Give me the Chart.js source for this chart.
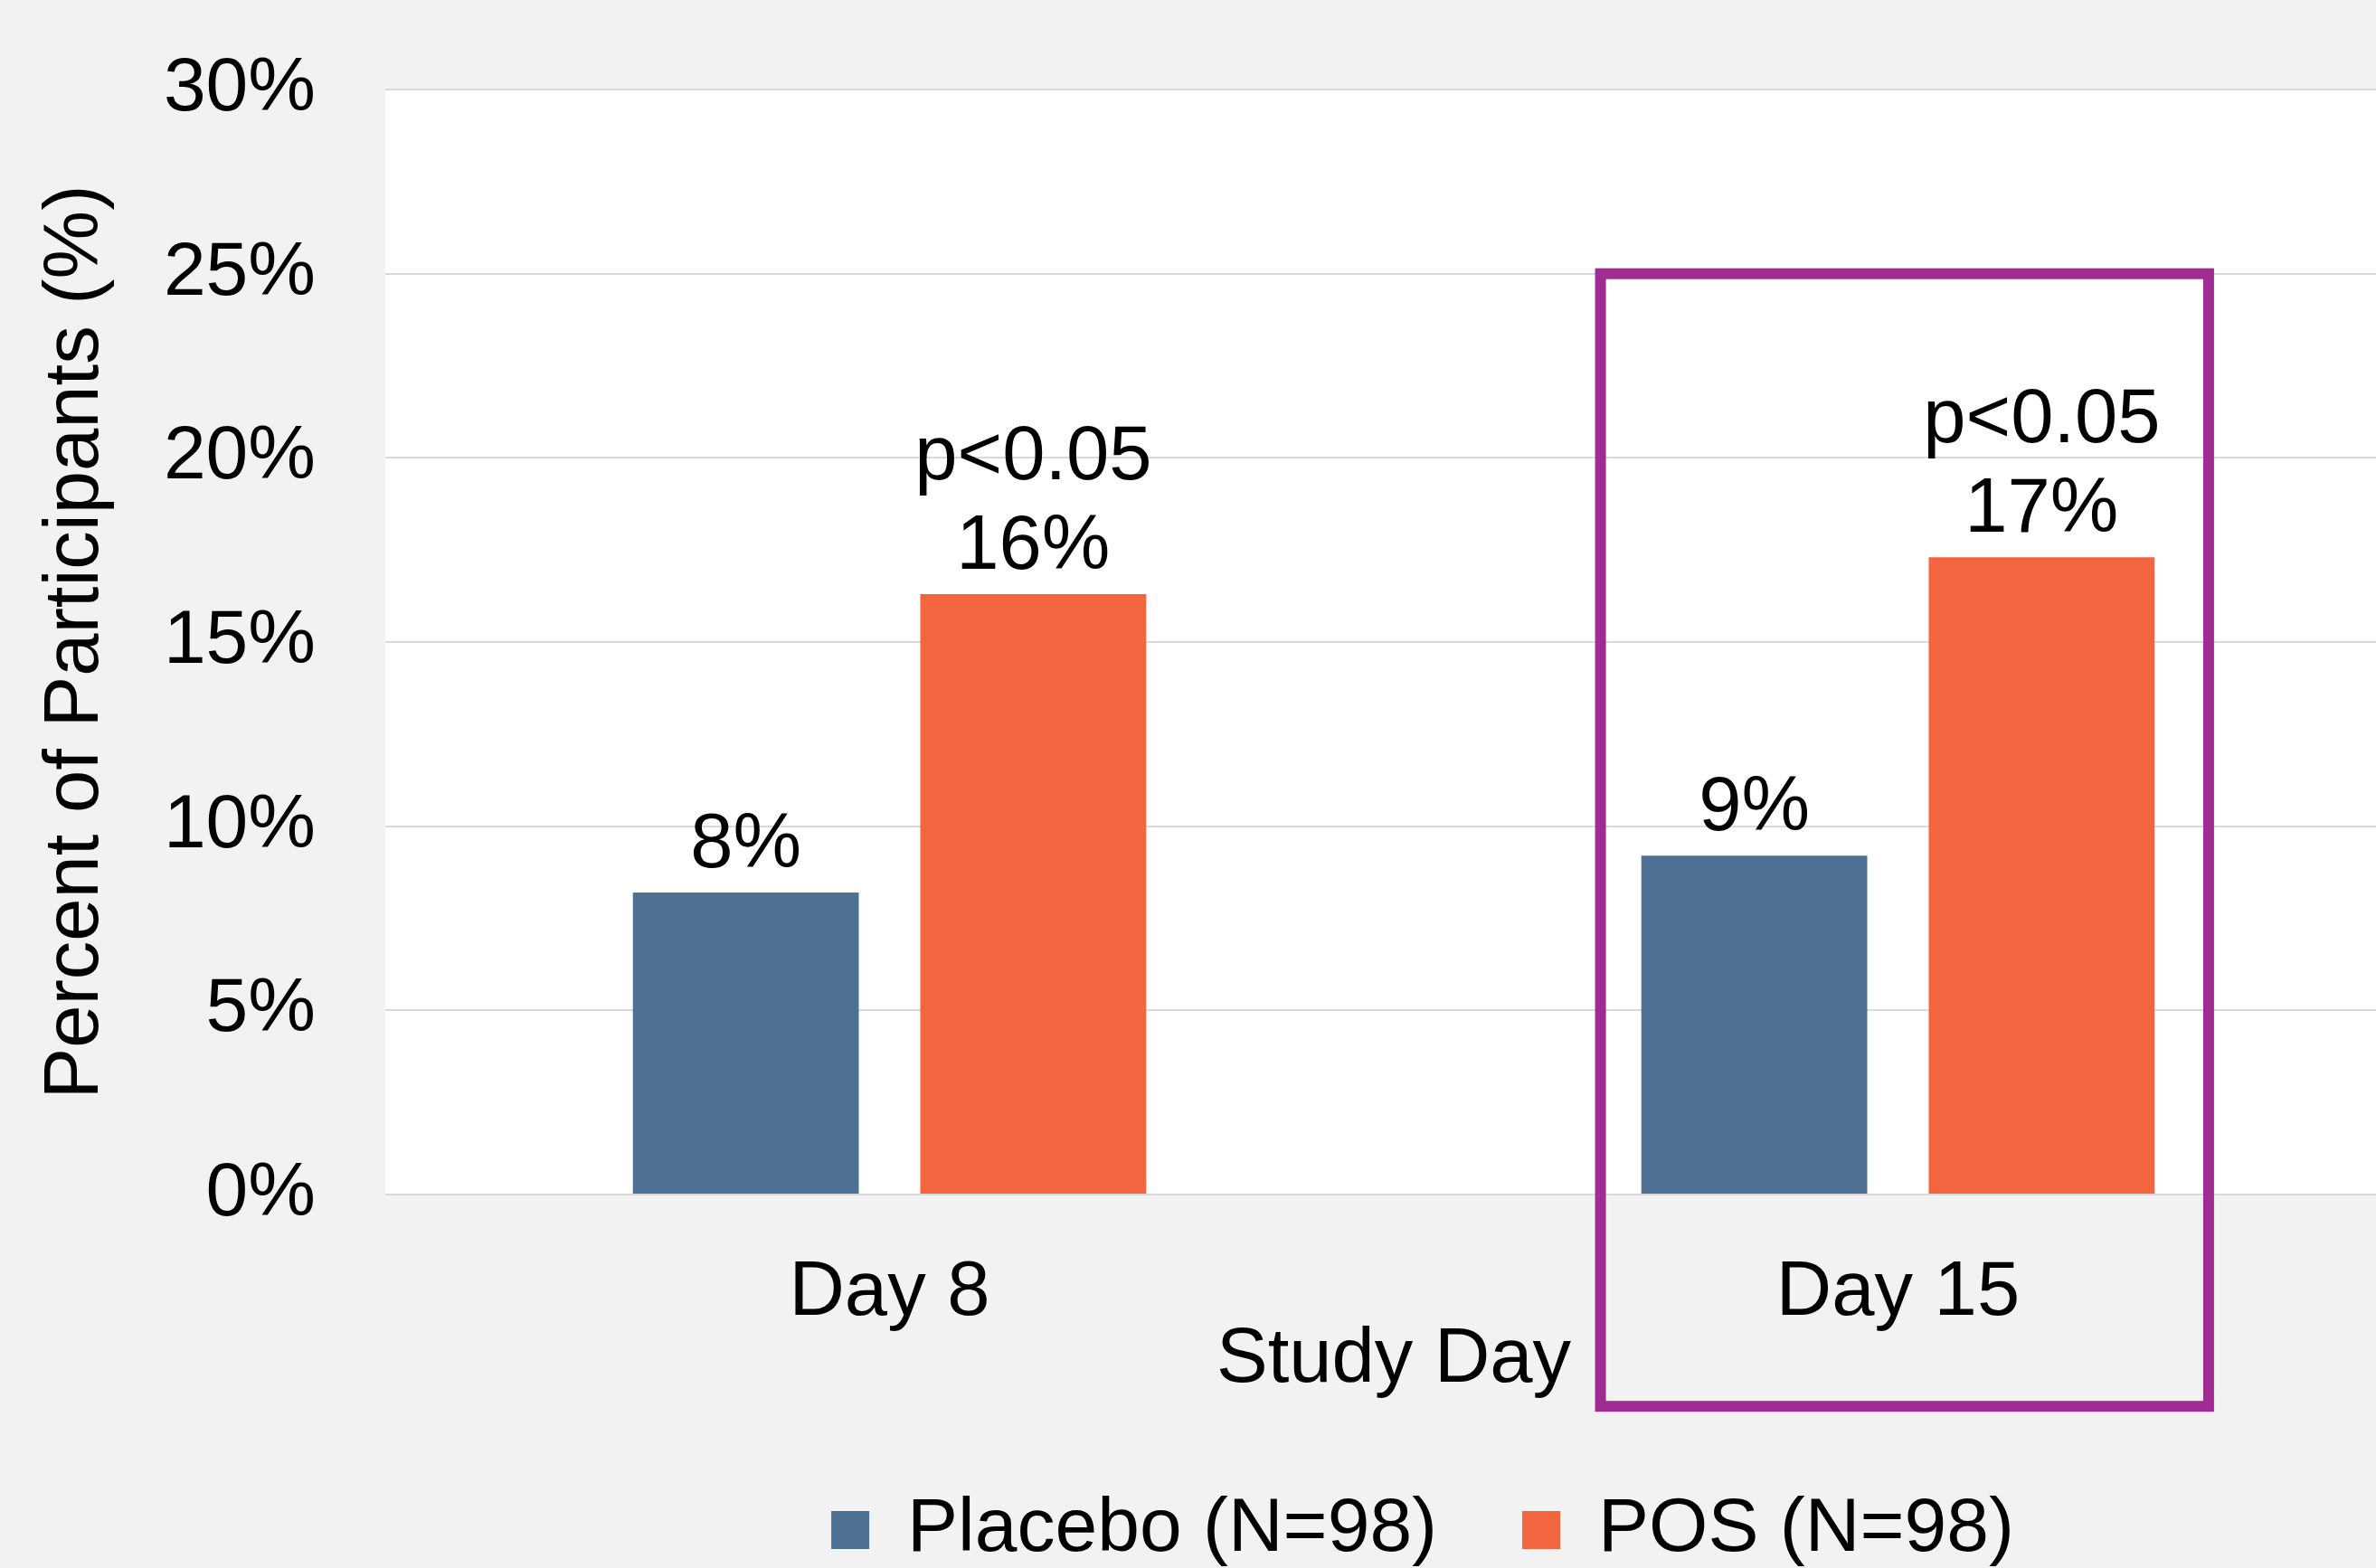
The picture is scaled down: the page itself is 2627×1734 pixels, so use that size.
<!DOCTYPE html>
<html>
<head>
<meta charset="utf-8">
<script src="https://cdn.jsdelivr.net/npm/chart.js@4.4.1/dist/chart.umd.min.js"></script>
<style>
    html, body { margin: 0; padding: 0; background: #f2f2f2; overflow: hidden; }
    #wrap { width: 2660px; height: 1734px; }
</style>
</head>
<body>
<div id="wrap"><canvas id="studyChart"></canvas></div>
<script>
// data
const days = ['Day 8', 'Day 15'];
const placebo = [8.2, 9.2];
const pos = [16.3, 17.3];
const placeboLabels = ['8%', '9%'];
const posLabels = ['16%', '17%'];
const pValues = ['p<0.05', 'p<0.05'];
const yTicks = [0, 5, 10, 15, 20, 25, 30];
const highlightDay = 'Day 15';

const FONT = '"Liberation Sans", Arial, sans-serif';

// white plot area on the grey slide background
const plotBackground = {
    id: 'plotBackground',
    beforeDraw(chart) {
        const { ctx, chartArea } = chart;
        ctx.save();
        ctx.fillStyle = '#ffffff';
        ctx.fillRect(chartArea.left, chartArea.top, chartArea.right - chartArea.left, chartArea.bottom - chartArea.top);
        ctx.restore();
    }
};

// value labels above the bars
const barLabels = {
    id: 'barLabels',
    afterDatasetsDraw(chart) {
        const { ctx } = chart;
        ctx.save();
        ctx.font = `85px ${FONT}`;
        ctx.fillStyle = '#000000';
        ctx.textAlign = 'center';
        ctx.textBaseline = 'alphabetic';
        chart.getDatasetMeta(0).data.forEach((bar, i) => {
            ctx.fillText(placeboLabels[i], bar.x, bar.y - 28);
        });
        chart.getDatasetMeta(1).data.forEach((bar, i) => {
            ctx.fillText(posLabels[i], bar.x, bar.y - 28);
            ctx.fillText(pValues[i], bar.x, bar.y - 127);
        });
        ctx.restore();
    }
};

// purple frame round the highlighted day
const highlightBox = {
    id: 'highlightBox',
    afterDraw(chart) {
        const { ctx, scales: { x, y } } = chart;
        const idx = days.indexOf(highlightDay);
        const catW = (x.right - x.left) / days.length;
        const c = x.getPixelForValue(idx);
        const left = c - 0.295 * catW;
        const right = c + 0.308 * catW;
        const top = y.getPixelForValue(25);
        const bottom = y.getPixelForValue(-5.75);
        ctx.save();
        ctx.strokeStyle = '#A02B93';
        ctx.lineWidth = 12;
        ctx.strokeRect(left, top, right - left, bottom - top);
        ctx.restore();
    }
};

// move the legend under the plot centre
const legendShift = {
    id: 'legendShift',
    afterLayout(chart) {
        const lg = chart.legend;
        const area = chart.chartArea;
        const dx = (area.left + area.right) / 2 + 32 - (lg.left + lg.right) / 2;
        lg.left += dx;
        lg.right += dx;
    }
};

new Chart(document.getElementById('studyChart'), {
    type: 'bar',
    data: {
        labels: days,
        datasets: [
            {
                label: 'Placebo (N=98)',
                data: placebo,
                backgroundColor: '#4E7193',
                categoryPercentage: 0.57,
                barPercentage: 0.786
            },
            {
                label: 'POS (N=98)',
                data: pos,
                backgroundColor: '#F2653F',
                categoryPercentage: 0.57,
                barPercentage: 0.786
            }
        ]
    },
    options: {
        responsive: true,
        maintainAspectRatio: false,
        animation: false,
        devicePixelRatio: 1,
        layout: { padding: { top: 99, right: 4, bottom: -10, left: 0 } },
        plugins: {
            tooltip: { enabled: false },
            legend: {
                position: 'bottom',
                labels: {
                    font: { family: FONT, size: 84 },
                    color: '#000000',
                    boxWidth: 42,
                    boxHeight: 42,
                    padding: 94
                }
            }
        },
        scales: {
            x: {
                grid: { display: false },
                border: { display: false },
                ticks: {
                    font: { family: FONT, size: 85 },
                    color: '#000000',
                    padding: 51
                },
                title: {
                    display: true,
                    text: 'Study Day',
                    font: { family: FONT, size: 85 },
                    color: '#000000',
                    padding: 0
                },
                afterFit(scale) { scale.height = 235; }
            },
            y: {
                min: 0,
                max: 30,
                grid: { color: '#D9D9D9', lineWidth: 2, drawTicks: true, tickLength: 77, tickColor: 'transparent' },
                border: { display: false },
                afterBuildTicks(scale) {
                    scale.ticks = yTicks.map(v => ({ value: v }));
                },
                ticks: {
                    font: { family: FONT, size: 84 },
                    color: '#000000',
                    padding: 0,
                    callback: v => v + '%'
                },
                title: {
                    display: true,
                    text: 'Percent of Participants (%)',
                    font: { family: FONT, size: 85 },
                    color: '#000000',
                    padding: { top: 34, bottom: 0 }
                },
                afterFit(scale) { scale.width = 426; }
            }
        }
    },
    plugins: [plotBackground, barLabels, highlightBox, legendShift]
});
</script>
</body>
</html>
